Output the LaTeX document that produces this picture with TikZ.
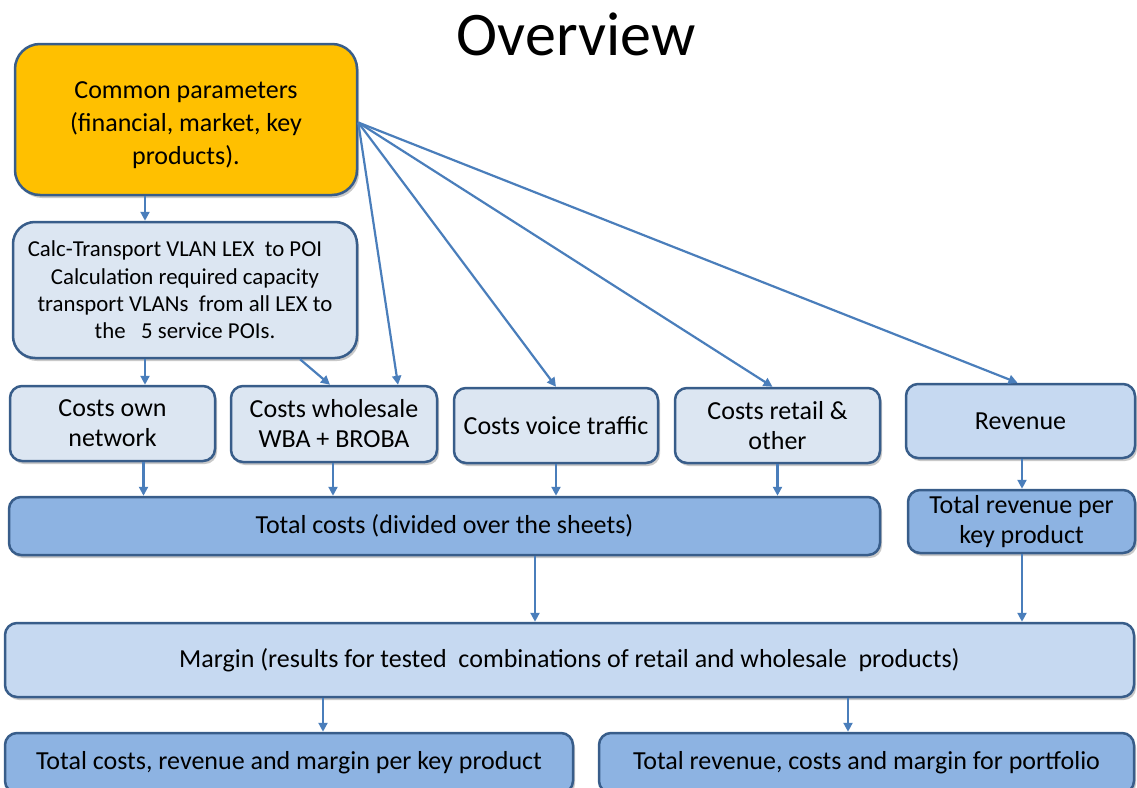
\documentclass[tikz,border=0pt]{standalone}
\usepackage{fontspec}
\setmainfont{Carlito}
\usetikzlibrary{arrows.meta,shadows}
\definecolor{amber}{HTML}{FFC000}
\definecolor{paleblue}{HTML}{DCE6F2}
\definecolor{midblue}{HTML}{C6D9F1}
\definecolor{deepblue}{HTML}{8DB3E2}
\definecolor{boxline}{HTML}{385D8A}
\definecolor{linkblue}{HTML}{4A7EBB}
\begin{document}
\begin{tikzpicture}[x=1pt,y=-1pt,
  box/.style={draw=boxline, line width=2.5pt, rounded corners=12pt, align=center,
    inner sep=0pt, text=black, font=\fontsize{26}{30}\selectfont,
    drop shadow={shadow xshift=2pt, shadow yshift=-3pt, opacity=0.3, fill=black!70}},
  link/.style={draw=linkblue, line width=2.2pt, -{Triangle[length=9pt,width=9pt]}}]
\useasboundingbox (0,0) rectangle (1137,787);
\clip (0,0) rectangle (1137,787);

% title
\node[font=\fontsize{62}{70}\selectfont, anchor=base] (title) at (576,55) {Overview};

% top level
\node[box, fill=amber, rounded corners=25pt, minimum width=342pt, minimum height=151pt,
  font=\fontsize{26}{33}\selectfont]
  (common) at (186,119.5) {\parbox{300pt}{\centering\vspace*{12pt}Common parameters\\(financial, market, key\\products).}};
\node[box, fill=paleblue, rounded corners=22pt, minimum width=344pt, minimum height=136pt,
  font=\fontsize{22.8}{27.3}\selectfont]
  (calc) at (185,290) {Calc-Transport VLAN LEX\ \ to POI\hspace*{20pt}\\Calculation required capacity\\transport VLANs\ \ from all LEX to\\the\ \ \ 5 service POIs.};

% cost and revenue sources
\node[box, fill=paleblue, minimum width=205pt, minimum height=75pt] (own) at (112.5,423.5) {Costs own\\network};
\node[box, fill=paleblue, minimum width=206pt, minimum height=76pt] (whole) at (334,424) {Costs wholesale\\WBA + BROBA};
\node[box, fill=paleblue, minimum width=204pt, minimum height=75pt] (voice) at (556,425.5) {Costs voice traffic};
\node[box, fill=paleblue, minimum width=205pt, minimum height=75pt] (retail) at (777.5,425.5) {Costs retail \&\\other};
\node[box, fill=midblue, minimum width=229pt, minimum height=74pt] (rev) at (1020.5,421) {Revenue};

% totals
\node[box, fill=deepblue, minimum width=871pt, minimum height=58pt] (totc) at (444.5,526) {Total costs (divided over the sheets)};
\node[box, fill=deepblue, minimum width=227pt, minimum height=63pt] (totr) at (1021.5,521.5) {Total revenue per\\key product};

% margin and results
\node[box, fill=midblue, minimum width=1129pt, minimum height=74pt] (margin) at (569.5,660)
  {Margin (results for tested\ \ combinations of retail and wholesale\ \ products)};
\node[box, fill=deepblue, minimum width=568pt, minimum height=60pt] (bl) at (289,763) {Total costs, revenue and margin per key product};
\node[box, fill=deepblue, minimum width=535pt, minimum height=60pt] (br) at (866.5,763) {Total revenue, costs and margin for portfolio};

% connectors
\draw[link] ([xshift=-41pt]common.south) -- ([xshift=-41pt]common.south |- calc.north);
\draw[link] ([xshift=-40pt]calc.south) -- ([xshift=-40pt]calc.south |- own.north);
\draw[link] ([xshift=115pt]calc.south) -- ([xshift=-4pt]whole.north);
\draw[link] ([yshift=-3pt]common.east) -- ([xshift=64pt]whole.north);
\draw[link] ([yshift=-3pt]common.east) -- (voice.north);
\draw[link] ([yshift=-3pt]common.east) -- ([xshift=-5pt]retail.north);
\draw[link] ([yshift=-3pt]common.east) -- ([xshift=-3pt]rev.north);

\draw[link] ([xshift=31pt]own.south) -- ([xshift=31pt]own.south |- totc.north);
\draw[link] ([xshift=-1pt]whole.south) -- ([xshift=-1pt]whole.south |- totc.north);
\draw[link] (voice.south) -- (voice.south |- totc.north);
\draw[link] (retail.south) -- (retail.south |- totc.north);
\draw[link] ([xshift=1.5pt]rev.south) -- ([xshift=1.5pt]rev.south |- totr.north);

\draw[link] ([xshift=90.5pt]totc.south) -- ([xshift=90.5pt]totc.south |- margin.north);
\draw[link] ([xshift=0.5pt]totr.south) -- ([xshift=0.5pt]totr.south |- margin.north);
\draw[link] ([xshift=34pt]bl.north |- margin.south) -- ([xshift=34pt]bl.north);
\draw[link] ([xshift=-18.5pt]br.north |- margin.south) -- ([xshift=-18.5pt]br.north);
\end{tikzpicture}
\end{document}
